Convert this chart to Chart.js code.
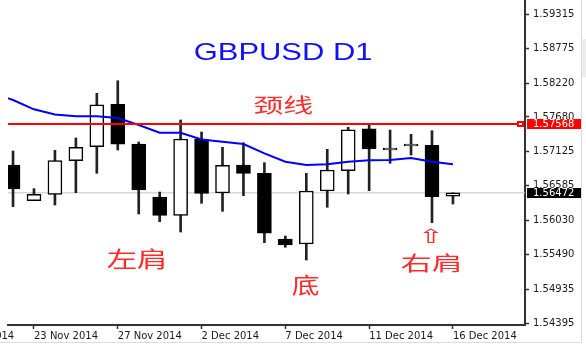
<!DOCTYPE html>
<html>
<head>
<meta charset="utf-8">
<script src="https://cdn.jsdelivr.net/npm/chart.js@4.4.1/dist/chart.umd.min.js"></script>
<style>
  html, body { margin: 0; padding: 0; background: #fff; }
  canvas { display: block; }
</style>
</head>
<body>
<canvas id="chart" width="586" height="346"></canvas>
<script>
// bougies journalières GBPUSD (21 Nov -> 16 Dec 2014)
const dates  = ['21 Nov','23 Nov','24 Nov','25 Nov','26 Nov','27 Nov','28 Nov','30 Nov','1 Dec','2 Dec','3 Dec',
                '4 Dec','5 Dec','7 Dec','8 Dec','9 Dec','10 Dec','11 Dec','12 Dec','14 Dec','15 Dec','16 Dec'];
const opens  = [1.56915,1.56347,1.56448,1.56984,1.57207,1.57882,1.57250,1.56406,1.56114,1.57329,1.56469,
                1.56915,1.56783,1.55737,1.55657,1.56501,1.56824,1.57493,1.57155,1.57219,1.57229,1.56418];
const highs  = [1.57138,1.56538,1.57149,1.57345,1.58057,1.58257,1.57281,1.56485,1.57632,1.57441,1.57197,
                1.57270,1.56952,1.55785,1.56783,1.57165,1.57515,1.57568,1.57472,1.57404,1.57461,1.56472];
const lows   = [1.56251,1.56347,1.56278,1.56474,1.56783,1.57154,1.56135,1.56012,1.55848,1.56305,1.56178,
                1.56426,1.55678,1.55605,1.55402,1.56242,1.56453,1.56506,1.56942,1.57074,1.55996,1.56294];
const closes = [1.56533,1.56448,1.56984,1.57197,1.57875,1.57245,1.56517,1.56114,1.57329,1.56464,1.56910,
                1.56783,1.55828,1.55641,1.56501,1.56836,1.57477,1.57170,1.57185,1.57249,1.56410,1.56472];
// moyenne mobile (commence une bougie avant le bord gauche)
const maValues = [1.58070,1.57950,1.57802,1.57719,1.57691,1.57691,1.57664,1.57552,1.57429,1.57429,1.57321,1.57286,
                  1.57250,1.57101,1.56968,1.56915,1.56926,1.56968,1.56990,1.56995,1.57027,1.56968,1.56926];
const neckline  = 1.57568;
const lastPrice = 1.56472;

const yTicks = [1.54395,1.54935,1.55490,1.56030,1.56585,1.57125,1.57680,1.58220,1.58775,1.59315];
const xTickIdx = [-3,1,5,9,13,17,21];
const xTickLabels = ['18 Nov 2014','23 Nov 2014','27 Nov 2014','2 Dec 2014','7 Dec 2014','11 Dec 2014','16 Dec 2014'];

const yMin = 1.54367, yMax = 1.59543;
const xMin = -0.24, xMax = 24.44;

// texte étiré pour remplir une boîte (x0,y0,x1,y1)
function fitText(ctx, txt, box, font, color) {
    ctx.save();
    ctx.font = font;
    ctx.textAlign = 'left';
    ctx.textBaseline = 'alphabetic';
    const m = ctx.measureText(txt);
    const w = m.actualBoundingBoxLeft + m.actualBoundingBoxRight;
    const h = m.actualBoundingBoxAscent + m.actualBoundingBoxDescent;
    const sx = (box[2] - box[0]) / w;
    const sy = (box[3] - box[1]) / h;
    ctx.translate(box[0], box[1]);
    ctx.scale(sx, sy);
    ctx.fillStyle = color;
    ctx.fillText(txt, m.actualBoundingBoxLeft, m.actualBoundingBoxAscent);
    ctx.restore();
}

const decor = {
    id: 'decor',
    afterDraw(chart) {
        const ctx = chart.ctx;
        const y = chart.scales.y;

        // étiquettes de prix sur l'axe
        function priceBox(value, bg) {
            const py = Math.round(y.getPixelForValue(value));
            ctx.fillStyle = bg;
            ctx.fillRect(y.left + 2, py - 5, 54, 10);
            ctx.fillStyle = '#fff';
            ctx.font = '10px "DejaVu Sans"';
            ctx.textAlign = 'left';
            ctx.textBaseline = 'middle';
            ctx.fillText(value.toFixed(5), y.left + 8, py + 0.5);
        }
        priceBox(neckline, '#ff0000');
        priceBox(lastPrice, '#000');

        // petit carré au bout de la ligne rouge
        const ny = Math.round(y.getPixelForValue(neckline));
        ctx.fillStyle = '#ff0000';
        ctx.fillRect(517, ny - 3, 7, 6);
        ctx.fillStyle = '#fff';
        ctx.fillRect(519, ny - 1, 3, 2);

        // titre et annotations
        fitText(ctx, 'GBPUSD D1', [195, 43.3, 372, 60], '24px "Liberation Sans"', '#1010ff');
        const red = '#ff2a2a';
        const cjk = '24px "Noto Sans CJK SC"';
        fitText(ctx, '颈线', [253.3, 95, 313.3, 115], cjk, red);
        fitText(ctx, '左肩', [106.7, 248.3, 165, 270], cjk, red);
        fitText(ctx, '底', [291.7, 274, 318.3, 296], cjk, red);
        fitText(ctx, '右肩', [400.7, 253.3, 460, 273.3], cjk, red);
        fitText(ctx, '⇧', [422.3, 227.3, 440, 242.7], '20px "DejaVu Sans"', red);

        // bord de fenêtre à droite / en bas
        ctx.fillStyle = '#dcdcdc';
        ctx.fillRect(581, 0, 1, 342);
        ctx.fillRect(0, 342, 582, 1);
        ctx.fillStyle = '#ececec';
        ctx.fillRect(582, 39, 4, 38);
    }
};

// pas de marge automatique autour des axes
function fixAxis(size) {
    return s => {
        if (s.isHorizontal()) { s.height = size; } else { s.width = size; }
        s.paddingLeft = s.paddingRight = s.paddingTop = s.paddingBottom = 0;
    };
}

const ctx = document.getElementById('chart').getContext('2d');
new Chart(ctx, {
    type: 'bar',
    data: {
        datasets: [
            {
                type: 'line',
                data: [{x: xMin, y: neckline}, {x: 24.06, y: neckline}],
                borderColor: '#ff0000',
                borderWidth: 2,
                pointRadius: 0,
                order: -1
            },
            {
                type: 'line',
                data: maValues.map((v, i) => ({x: i - 1, y: v})),
                borderColor: '#0000ff',
                borderWidth: 2,
                pointRadius: 0,
                tension: 0,
                order: 0
            },
            {
                // corps des bougies
                data: dates.map((d, i) => ({x: i, y: [opens[i], closes[i]]})),
                backgroundColor: c => closes[c.dataIndex] >= opens[c.dataIndex] ? '#fff' : '#000',
                borderColor: '#000',
                borderWidth: 1.5,
                borderSkipped: false,
                barThickness: 14,
                grouped: false,
                order: 1
            },
            {
                // mèches
                data: dates.map((d, i) => ({x: i, y: [lows[i], highs[i]]})),
                backgroundColor: '#222',
                barThickness: 2,
                grouped: false,
                order: 2
            },
            {
                type: 'line',
                data: [{x: xMin, y: lastPrice}, {x: xMax, y: lastPrice}],
                borderColor: '#c4c4c4',
                borderWidth: 1,
                pointRadius: 0,
                order: 3
            }
        ]
    },
    options: {
        responsive: false,
        animation: false,
        layout: { padding: {left: 8, right: 0, top: 0, bottom: 0}, autoPadding: false },
        plugins: { legend: {display: false}, tooltip: {enabled: false}, title: {display: false} },
        scales: {
            x: {
                type: 'linear',
                position: 'bottom',
                offset: false,
                bounds: 'data',
                min: xMin,
                max: xMax,
                afterBuildTicks: s => { s.ticks = xTickIdx.map(v => ({value: v})); },
                afterFit: fixAxis(21),
                grid: { offset: false, drawOnChartArea: false, tickLength: 4, color: '#333', tickWidth: 1.5 },
                border: { color: '#333', width: 2 },
                ticks: {
                    autoSkip: false, maxRotation: 0, align: 'start', padding: 1,
                    font: {family: 'DejaVu Sans', size: 10}, color: '#1a1a1a',
                    callback: (v, i) => xTickLabels[i]
                }
            },
            y: {
                position: 'right',
                beginAtZero: false,
                min: yMin,
                max: yMax,
                afterBuildTicks: s => { s.ticks = yTicks.map(v => ({value: v})); },
                afterFit: fixAxis(61),
                grid: { drawOnChartArea: false, tickLength: 4, color: '#333', tickWidth: 1.5 },
                border: { color: '#333', width: 2 },
                ticks: {
                    padding: 4,
                    font: {family: 'DejaVu Sans', size: 10}, color: '#1a1a1a',
                    callback: v => v.toFixed(5)
                }
            }
        }
    },
    plugins: [decor]
});
</script>
</body>
</html>
